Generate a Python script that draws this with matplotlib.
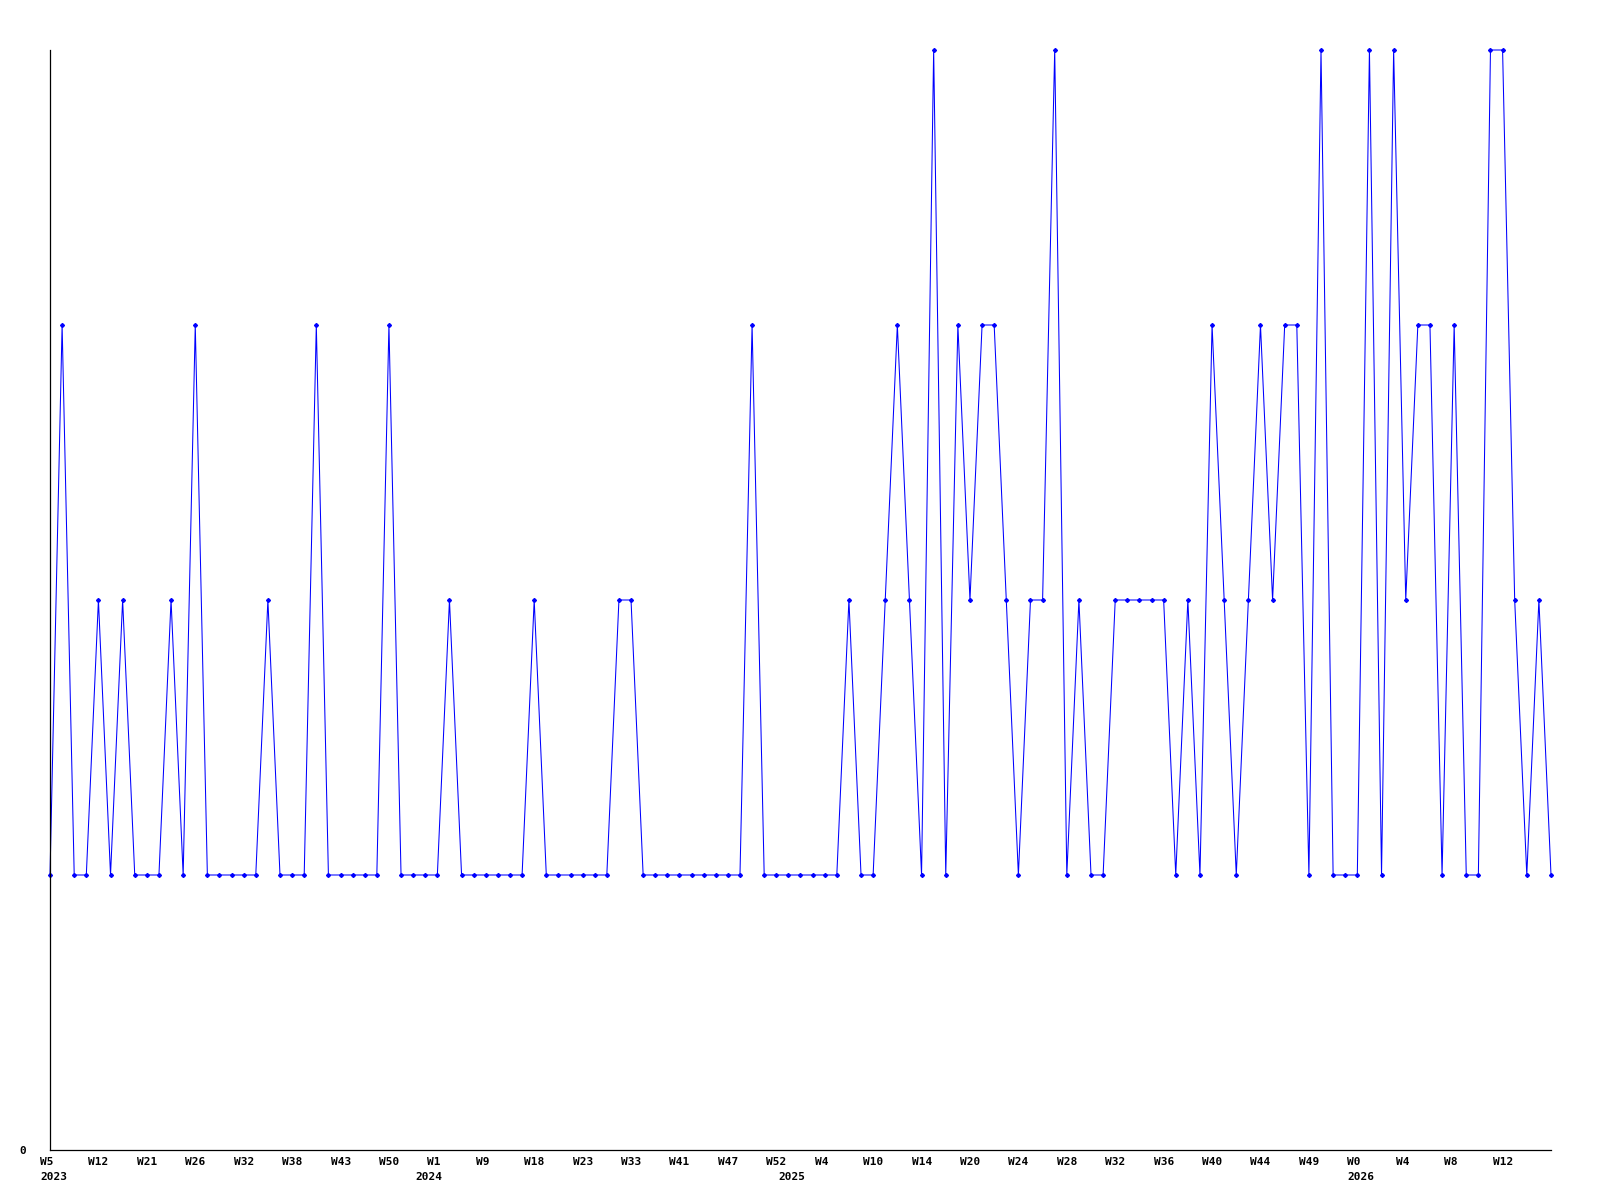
import matplotlib
matplotlib.use("Agg")
import matplotlib.pyplot as plt
from matplotlib.transforms import ScaledTranslation

# weekly values, one per sample
values = [
    1, 3, 1, 1, 2, 1, 2, 1, 1, 1, 2, 1, 3, 1, 1, 1, 1, 1, 2, 1,
    1, 1, 3, 1, 1, 1, 1, 1, 3, 1, 1, 1, 1, 2, 1, 1, 1, 1, 1, 1,
    2, 1, 1, 1, 1, 1, 1, 2, 2, 1, 1, 1, 1, 1, 1, 1, 1, 1, 3, 1,
    1, 1, 1, 1, 1, 1, 2, 1, 1, 2, 3, 2, 1, 4, 1, 3, 2, 3, 3, 2,
    1, 2, 2, 4, 1, 2, 1, 1, 2, 2, 2, 2, 2, 1, 2, 1, 3, 2, 1, 2,
    3, 2, 3, 3, 1, 4, 1, 1, 1, 4, 1, 4, 2, 3, 3, 1, 3, 1, 1, 4,
    4, 2, 1, 2, 1,
]

# every 4th sample gets a week label
tick_step = 4
tick_labels = [
    "W5", "W12", "W21", "W26", "W32", "W38", "W43", "W50",
    "W1", "W9", "W18", "W23", "W33", "W41", "W47", "W52",
    "W4", "W10", "W14", "W20", "W24", "W28", "W32", "W36",
    "W40", "W44", "W49", "W0", "W4", "W8", "W12",
]

# first sample of each year
year_labels = ["2023", "2024", "2025", "2026"]
year_first_sample = [0, 31, 61, 108]

font = dict(family="DejaVu Sans Mono", weight="bold", size=8)

fig = plt.figure(figsize=(16, 12), dpi=100)
ax = fig.add_axes([50 / 1600, 50 / 1200, 1501 / 1600, 1100 / 1200])

x = list(range(len(values)))
ax.plot(x, values, color="#0000ff", lw=0.75, marker="D", ms=2.0,
        mec="#0000ff", mfc="#0000ff", clip_on=False)

ax.set_xlim(0, len(values) - 1)
ax.set_ylim(0, 4)

for side in ("top", "right"):
    ax.spines[side].set_visible(False)
for side in ("left", "bottom"):
    ax.spines[side].set_linewidth(0.9)
    ax.spines[side].set_color("black")

ax.set_xticks([])
ax.set_yticks([])

xtrans = ax.get_xaxis_transform()
week_off = xtrans + ScaledTranslation(-10 / 100, -7 / 100, fig.dpi_scale_trans)
year_off = xtrans + ScaledTranslation(-10 / 100, -22 / 100, fig.dpi_scale_trans)

for k, lab in enumerate(tick_labels):
    ax.text(k * tick_step, 0, lab, transform=week_off, ha="left", va="top",
            **font)

for lab, i in zip(year_labels, year_first_sample):
    ax.text(i, 0, lab, transform=year_off, ha="left", va="top", **font)

ytrans = ax.get_yaxis_transform()
ax.text(0, 0, "0",
        transform=ytrans + ScaledTranslation(-24 / 100, -1 / 100, fig.dpi_scale_trans),
        ha="right", va="center", **font)

fig.savefig("out.png", dpi=100, facecolor="white")
